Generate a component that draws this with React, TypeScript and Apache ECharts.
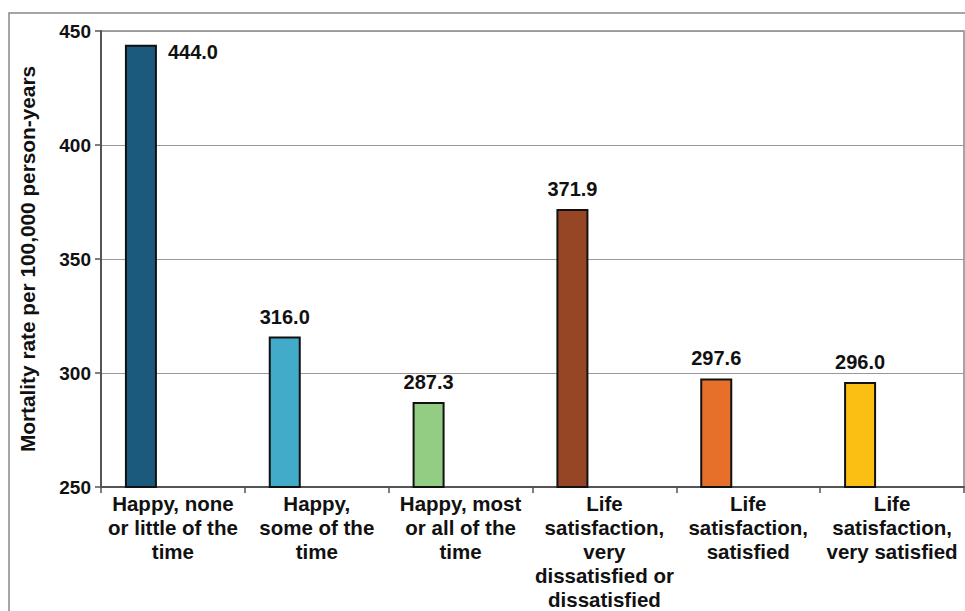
import React, { useEffect, useRef } from "react";
import * as echarts from "echarts";

const categories = [
  "Happy, none\nor little of the\ntime",
  "Happy,\nsome of the\ntime",
  "Happy, most\nor all of the\ntime",
  "Life\nsatisfaction,\nvery\ndissatisfied or\ndissatisfied",
  "Life\nsatisfaction,\nsatisfied",
  "Life\nsatisfaction,\nvery satisfied",
];
const values = [444.0, 316.0, 287.3, 371.9, 297.6, 296.0];
const barColors = ["#1b5a7d", "#42abc9", "#93cd84", "#974625", "#e6702a", "#fbbf14"];
const yTicks = { min: 250, max: 450, interval: 50 };
const yTitle = "Mortality rate per 100,000 person-years";

export default function App() {
  const ref = useRef<HTMLDivElement>(null);
  useEffect(() => {
    if (!ref.current) return;
    const chart = echarts.init(ref.current, null, { renderer: "svg" });
    const font = "'Liberation Sans', Arial, sans-serif";
    chart.setOption({
      animation: false,
      textStyle: { fontFamily: font },
      graphic: [
        {
          type: "rect",
          shape: { x: 9, y: 13, width: 1000, height: 700 },
          style: { fill: "none", stroke: "#888", lineWidth: 1.5 },
          silent: true,
        },
      ],
      grid: {
        left: 101,
        top: 31,
        right: 1,
        bottom: 123,
        show: true,
        borderColor: "#888",
        borderWidth: 1.5,
      },
      xAxis: {
        type: "category",
        data: categories,
        axisLine: { show: true, lineStyle: { color: "#555", width: 2 } },
        axisTick: { show: true, alignWithLabel: false, length: 6, lineStyle: { color: "#555", width: 1.5 } },
        axisLabel: {
          interval: 0,
          margin: 4,
          fontSize: 20.5,
          fontWeight: "bold",
          color: "#111",
          lineHeight: 24,
          fontFamily: font,
        },
      },
      yAxis: {
        type: "value",
        min: yTicks.min,
        max: yTicks.max,
        interval: yTicks.interval,
        name: yTitle,
        nameLocation: "middle",
        nameGap: 63,
        nameTextStyle: { fontSize: 20.8, fontWeight: "bold", color: "#111", fontFamily: font },
        axisLine: { show: true, lineStyle: { color: "#555", width: 2 } },
        axisTick: { show: true, length: 6, lineStyle: { color: "#555", width: 1.5 } },
        axisLabel: { fontSize: 19, fontWeight: "bold", color: "#111", margin: 10, fontFamily: font },
        splitLine: { show: true, lineStyle: { color: "#999", width: 1 } },
      },
      series: [
        {
          type: "bar",
          barWidth: 32,
          barGap: "100%",
          data: values.map((v, i) => ({
            value: v,
            itemStyle: { color: barColors[i], borderColor: "#111", borderWidth: 2 },
            label:
              i === 0
                ? { show: true, position: [43, -3] }
                : { show: true, position: "top", distance: 10 },
          })),
          label: {
            show: true,
            fontSize: 20,
            fontWeight: "bold",
            color: "#111",
            fontFamily: font,
            formatter: (p: any) => Number(p.value).toFixed(1),
          },
        },
        {
          type: "bar",
          barWidth: 32,
          data: values.map(() => null),
        },
      ],
    });
    return () => chart.dispose();
  }, []);
  return (
    <div
      ref={ref}
      style={{ position: "fixed", left: 0, top: 0, width: 965, height: 611, background: "#fff" }}
    />
  );
}
